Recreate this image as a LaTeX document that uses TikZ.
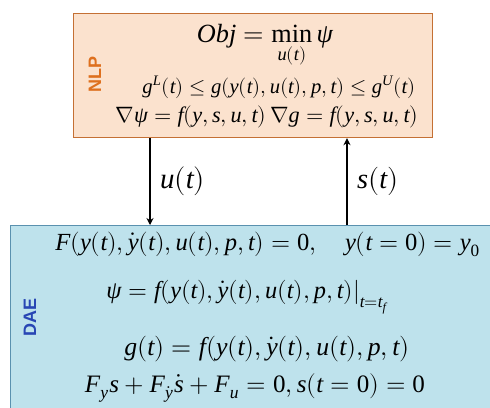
\documentclass[tikz,border=0pt]{standalone}
\usepackage{amsmath}
\usepackage{fontspec}
\usepackage{unicode-math}
\setmainfont{Liberation Serif}
\setmathfont{Latin Modern Math}
\setmathfont{Liberation Serif Italic}[range={it/{Latin,latin,greek}}]
\setmathfont{Liberation Serif}[range={up/{num}}]
\newfontfamily\labelfont{Liberation Sans}
\definecolor{nlpfill}{RGB}{251,226,206}
\definecolor{nlpdraw}{RGB}{196,112,52}
\definecolor{nlptext}{RGB}{222,112,30}
\definecolor{daefill}{RGB}{190,226,236}
\definecolor{daedraw}{RGB}{90,145,175}
\definecolor{daetext}{RGB}{40,70,180}
\usetikzlibrary{arrows.meta}
\tikzset{
  boxlabel/.style={font=\labelfont\bfseries\fontsize{18}{18}\selectfont, rotate=90, inner sep=0pt},
  eqn/.style={inner sep=0pt, anchor=base},
  flow/.style={draw=black, line width=1.2pt, -{Stealth[length=7pt,width=7pt]}},
}
\begin{document}
\begin{tikzpicture}[x=1pt,y=-1pt]
\useasboundingbox (0,0) rectangle (490,407);
\node[draw=nlpdraw, fill=nlpfill, line width=1.2pt, minimum width=359pt, minimum height=124pt, anchor=north west, inner sep=0pt] (nlp) at (73,13) {};
\node[draw=daedraw, fill=daefill, line width=1.2pt, minimum width=490pt, minimum height=190pt, anchor=north west, inner sep=0pt] (dae) at (10,225) {};
\node[boxlabel, text=nlptext] (nlplab) at (95,74) {NLP};
\node[boxlabel, text=daetext] (daelab) at (30,317) {DAE};
\node[eqn] (e1) at (265,42) {\resizebox{136pt}{!}{$Obj=\displaystyle\min_{u(t)}\psi$}};
\node[eqn] (e2) at (279,93) {\resizebox{273pt}{!}{$g^L(t)\le g(y(t),u(t),p,t)\le g^U(t)$}};
\node[eqn] (e3) at (267,122) {\resizebox{303pt}{!}{$\nabla\psi=f(y,s,u,t)\,\nabla g=f(y,s,u,t)$}};
\node[eqn] (d1) at (268,250) {\resizebox{425pt}{!}{$F(y(t),\dot y(t),u(t),p,t)=0,\quad y(t=0)=y_0$}};
\node[eqn] (d2) at (246,298) {\resizebox{285pt}{!}{$\left.\psi=f(y(t),\dot y(t),u(t),p,t)\right|_{t=t_f}$}};
\node[eqn] (d3) at (267,355) {\resizebox{285pt}{!}{$g(t)=f(y(t),\dot y(t),u(t),p,t)$}};
\node[eqn] (d4) at (255,392) {\resizebox{340pt}{!}{$F_ys+F_{\dot y}\dot s+F_u=0,s(t=0)=0$}};
\draw[flow] (nlp.south -| 150,0) -- (dae.north -| 150,0);
\draw[flow] (dae.north -| 347,0) -- (nlp.south -| 347,0);
\node[eqn, anchor=base west] (ul) at (160,188) {\resizebox{45pt}{!}{$u(t)$}};
\node[eqn, anchor=base west] (sl) at (357,188) {\resizebox{41pt}{!}{$s(t)$}};
\end{tikzpicture}
\end{document}
